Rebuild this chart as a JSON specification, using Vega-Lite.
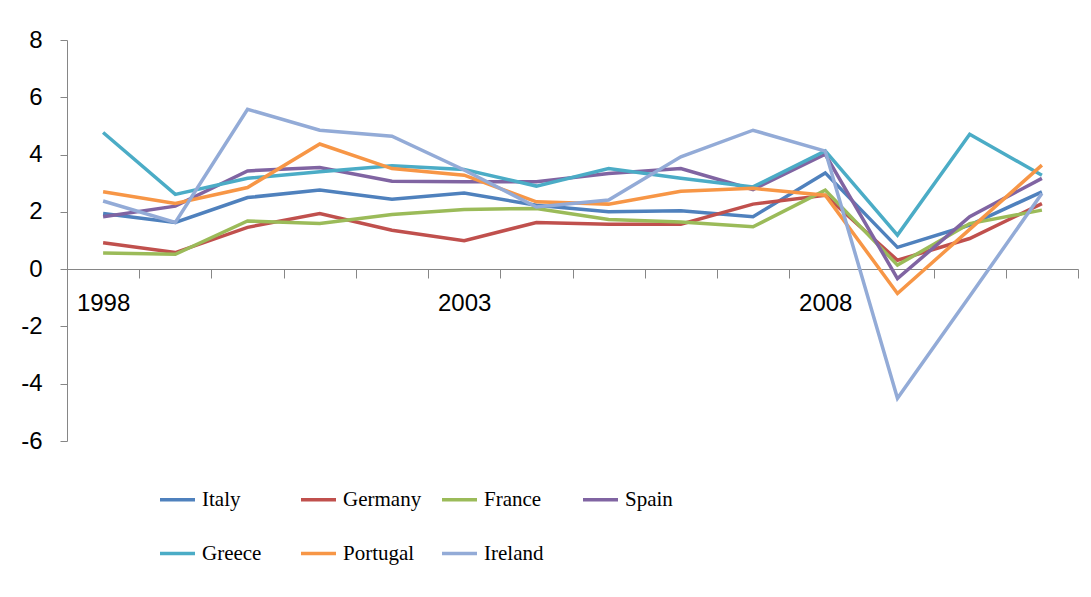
{
  "$schema": "https://vega.github.io/schema/vega-lite/v6.json",
  "width": 1011,
  "height": 401,
  "autosize": {"type": "none"},
  "padding": {"left": 67, "top": 40, "right": 13, "bottom": 156},
  "background": "white",
  "config": {"view": {"stroke": null}},
  "datasets": {
    "gdp": [
      {"year": "1998", "country": "Italy", "value": 1.94},
      {"year": "1999", "country": "Italy", "value": 1.63},
      {"year": "2000", "country": "Italy", "value": 2.50},
      {"year": "2001", "country": "Italy", "value": 2.76},
      {"year": "2002", "country": "Italy", "value": 2.44},
      {"year": "2003", "country": "Italy", "value": 2.66},
      {"year": "2004", "country": "Italy", "value": 2.23},
      {"year": "2005", "country": "Italy", "value": 2.00},
      {"year": "2006", "country": "Italy", "value": 2.04},
      {"year": "2007", "country": "Italy", "value": 1.83},
      {"year": "2008", "country": "Italy", "value": 3.36},
      {"year": "2009", "country": "Italy", "value": 0.76},
      {"year": "2010", "country": "Italy", "value": 1.54},
      {"year": "2011", "country": "Italy", "value": 2.70},
      {"year": "1998", "country": "Germany", "value": 0.92},
      {"year": "1999", "country": "Germany", "value": 0.58},
      {"year": "2000", "country": "Germany", "value": 1.46},
      {"year": "2001", "country": "Germany", "value": 1.94},
      {"year": "2002", "country": "Germany", "value": 1.36},
      {"year": "2003", "country": "Germany", "value": 0.99},
      {"year": "2004", "country": "Germany", "value": 1.63},
      {"year": "2005", "country": "Germany", "value": 1.57},
      {"year": "2006", "country": "Germany", "value": 1.57},
      {"year": "2007", "country": "Germany", "value": 2.27},
      {"year": "2008", "country": "Germany", "value": 2.58},
      {"year": "2009", "country": "Germany", "value": 0.31},
      {"year": "2010", "country": "Germany", "value": 1.07},
      {"year": "2011", "country": "Germany", "value": 2.29},
      {"year": "1998", "country": "France", "value": 0.56},
      {"year": "1999", "country": "France", "value": 0.52},
      {"year": "2000", "country": "France", "value": 1.68},
      {"year": "2001", "country": "France", "value": 1.59},
      {"year": "2002", "country": "France", "value": 1.91},
      {"year": "2003", "country": "France", "value": 2.08},
      {"year": "2004", "country": "France", "value": 2.12},
      {"year": "2005", "country": "France", "value": 1.73},
      {"year": "2006", "country": "France", "value": 1.65},
      {"year": "2007", "country": "France", "value": 1.48},
      {"year": "2008", "country": "France", "value": 2.76},
      {"year": "2009", "country": "France", "value": 0.14},
      {"year": "2010", "country": "France", "value": 1.59},
      {"year": "2011", "country": "France", "value": 2.06},
      {"year": "1998", "country": "Spain", "value": 1.83},
      {"year": "1999", "country": "Spain", "value": 2.20},
      {"year": "2000", "country": "Spain", "value": 3.43},
      {"year": "2001", "country": "Spain", "value": 3.55},
      {"year": "2002", "country": "Spain", "value": 3.07},
      {"year": "2003", "country": "Spain", "value": 3.05},
      {"year": "2004", "country": "Spain", "value": 3.05},
      {"year": "2005", "country": "Spain", "value": 3.34},
      {"year": "2006", "country": "Spain", "value": 3.51},
      {"year": "2007", "country": "Spain", "value": 2.78},
      {"year": "2008", "country": "Spain", "value": 4.01},
      {"year": "2009", "country": "Spain", "value": -0.33},
      {"year": "2010", "country": "Spain", "value": 1.83},
      {"year": "2011", "country": "Spain", "value": 3.17},
      {"year": "1998", "country": "Greece", "value": 4.77},
      {"year": "1999", "country": "Greece", "value": 2.61},
      {"year": "2000", "country": "Greece", "value": 3.17},
      {"year": "2001", "country": "Greece", "value": 3.40},
      {"year": "2002", "country": "Greece", "value": 3.61},
      {"year": "2003", "country": "Greece", "value": 3.48},
      {"year": "2004", "country": "Greece", "value": 2.90},
      {"year": "2005", "country": "Greece", "value": 3.51},
      {"year": "2006", "country": "Greece", "value": 3.17},
      {"year": "2007", "country": "Greece", "value": 2.87},
      {"year": "2008", "country": "Greece", "value": 4.13},
      {"year": "2009", "country": "Greece", "value": 1.19},
      {"year": "2010", "country": "Greece", "value": 4.71},
      {"year": "2011", "country": "Greece", "value": 3.28},
      {"year": "1998", "country": "Portugal", "value": 2.70},
      {"year": "1999", "country": "Portugal", "value": 2.29},
      {"year": "2000", "country": "Portugal", "value": 2.85},
      {"year": "2001", "country": "Portugal", "value": 4.37},
      {"year": "2002", "country": "Portugal", "value": 3.51},
      {"year": "2003", "country": "Portugal", "value": 3.28},
      {"year": "2004", "country": "Portugal", "value": 2.35},
      {"year": "2005", "country": "Portugal", "value": 2.27},
      {"year": "2006", "country": "Portugal", "value": 2.72},
      {"year": "2007", "country": "Portugal", "value": 2.82},
      {"year": "2008", "country": "Portugal", "value": 2.58},
      {"year": "2009", "country": "Portugal", "value": -0.85},
      {"year": "2010", "country": "Portugal", "value": 1.39},
      {"year": "2011", "country": "Portugal", "value": 3.63},
      {"year": "1998", "country": "Ireland", "value": 2.38},
      {"year": "1999", "country": "Ireland", "value": 1.63},
      {"year": "2000", "country": "Ireland", "value": 5.58},
      {"year": "2001", "country": "Ireland", "value": 4.85},
      {"year": "2002", "country": "Ireland", "value": 4.64},
      {"year": "2003", "country": "Ireland", "value": 3.46},
      {"year": "2004", "country": "Ireland", "value": 2.17},
      {"year": "2005", "country": "Ireland", "value": 2.41},
      {"year": "2006", "country": "Ireland", "value": 3.92},
      {"year": "2007", "country": "Ireland", "value": 4.85},
      {"year": "2008", "country": "Ireland", "value": 4.12},
      {"year": "2009", "country": "Ireland", "value": -4.51},
      {"year": "2010", "country": "Ireland", "value": -0.95},
      {"year": "2011", "country": "Ireland", "value": 2.64}
    ]
  },
  "data": {"name": "gdp"},
  "mark": {"type": "line", "strokeWidth": 3.5},
  "encoding": {
    "x": {
      "field": "year",
      "type": "ordinal",
      "scale": {"type": "band", "paddingInner": 0, "paddingOuter": 0},
      "axis": {
        "title": null,
        "tickBand": "extent",
        "labelExpr": "indexof(['1998','2003','2008'], datum.label) >= 0 ? datum.label : ''",
        "labelOverlap": false,
        "labelAngle": 0,
        "offset": -172,
        "tickSize": 9,
        "tickWidth": 1,
        "domainColor": "#868686",
        "tickColor": "#868686",
        "domainWidth": 1,
        "labelFont": "Liberation Sans",
        "labelFontSize": 24,
        "labelColor": "#000000",
        "labelPadding": 13
      }
    },
    "y": {
      "field": "value",
      "type": "quantitative",
      "scale": {"domain": [-6, 8], "nice": false, "zero": false},
      "axis": {
        "title": null,
        "grid": false,
        "values": [-6, -4, -2, 0, 2, 4, 6, 8],
        "labelExpr": "toString(datum.value)",
        "tickSize": 7,
        "tickWidth": 1,
        "domainColor": "#868686",
        "tickColor": "#868686",
        "labelFont": "Liberation Sans",
        "labelFontSize": 24,
        "labelColor": "#000000",
        "labelPadding": 18
      }
    },
    "color": {
      "field": "country",
      "type": "nominal",
      "scale": {
        "domain": ["Italy", "Germany", "France", "Spain", "Greece", "Portugal", "Ireland"],
        "range": ["#4F81BD", "#C0504D", "#9BBB59", "#8064A2", "#4BACC6", "#F79646", "#93ABD7"]
      },
      "legend": {
        "title": null,
        "orient": "none",
        "legendX": 91,
        "legendY": 440,
        "direction": "horizontal",
        "columns": 4,
        "gridAlign": "all",
        "columnPadding": 13,
        "rowPadding": 24,
        "padding": 0,
        "symbolType": "stroke",
        "symbolSize": 1225,
        "symbolStrokeWidth": 3.5,
        "labelFont": "Liberation Serif",
        "labelFontSize": 21,
        "labelColor": "#000000",
        "labelOffset": 5,
        "labelLimit": 0
      }
    }
  }
}
